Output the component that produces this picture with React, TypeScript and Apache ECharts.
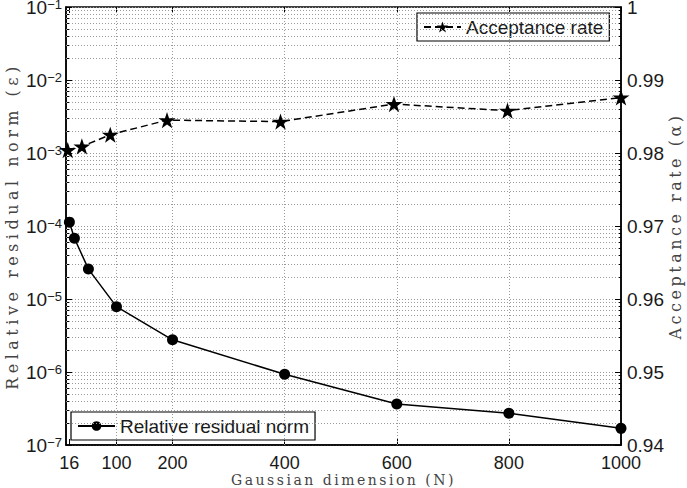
import React, { useEffect, useRef } from 'react';
import * as echarts from 'echarts';

// ---- data ----
const residualN = [16, 25, 50, 100, 200, 400, 600, 800, 1000];
const residualValues = [1.13e-4, 6.8e-5, 2.57e-5, 7.85e-6, 2.76e-6, 9.3e-7, 3.65e-7, 2.72e-7, 1.69e-7];

const acceptanceN = [25, 50, 100, 200, 400, 600, 800, 1000];
const acceptanceValues = [0.9804, 0.9809, 0.9825, 0.9845, 0.9843, 0.9867, 0.9858, 0.9876];

const xTickValues = [16, 100, 200, 400, 600, 800, 1000];
const xGridValues = [100, 200, 400, 600, 800];
const logDecades = [-7, -6, -5, -4, -3, -2];
const logMinorFactors = [2, 3, 4, 5, 6, 7, 8, 9];

const SANS = '"Liberation Sans", Arial, Helvetica, sans-serif';
const SERIF_X = '"DejaVu Serif", serif';
const SERIF_L = '"DejaVu Serif", "Noto Serif", serif';
const SERIF_R = '"DejaVu Serif", "Liberation Serif", serif';
const STAR = 'path://M12,0 L14.9,8.6 L24,8.6 L16.6,14 L19.4,22.8 L12,17.4 L4.6,22.8 L7.4,14 L0,8.6 L9.1,8.6 Z';

const dotted = { type: [1, 2] as number[], color: '#9a9a9a', width: 1 };

function buildOption(): echarts.EChartsOption {
  // minor log positions expressed in log10 units on a hidden linear axis
  const minorLog: number[] = [];
  logDecades.forEach((d) => logMinorFactors.forEach((k) => minorLog.push(Math.log10(k) + d)));
  const gridLines = [...xGridValues.map((v) => ({ xAxis: v })), ...minorLog.map((v) => ({ yAxis: v }))];

  const minorTickAxis = (position: 'left' | 'right') => ({
    type: 'value',
    min: -7,
    max: -1,
    position,
    offset: 0,
    axisLine: { show: false },
    axisLabel: { show: false },
    splitLine: { show: false },
    axisTick: { show: true, inside: true, length: 3, customValues: minorLog, lineStyle: { color: '#000', width: 1 } },
  });

  return {
    animation: false,
    backgroundColor: '#ffffff',
    grid: {
      left: 66,
      right: 66,
      top: 7,
      bottom: 43,
      show: true,
      borderColor: '#000',
      borderWidth: 1.5,
      backgroundColor: 'transparent',
      containLabel: false,
      outerBoundsMode: 'none',
    } as any,
    legend: [
      {
        data: ['Acceptance rate'],
        left: 417,
        top: 13,
        padding: [4, 6, 4, 6],
        itemWidth: 37,
        itemHeight: 14,
        selectedMode: false,
        backgroundColor: '#fff',
        borderColor: '#000',
        borderWidth: 1.2,
        borderRadius: 0,
        textStyle: { fontFamily: SANS, fontSize: 19, color: '#1a1a1a', lineHeight: 20 },
      },
      {
        data: ['Relative residual norm'],
        left: 71,
        top: 412,
        padding: [4, 6, 4, 6],
        itemWidth: 37,
        itemHeight: 12,
        selectedMode: false,
        backgroundColor: '#fff',
        borderColor: '#000',
        borderWidth: 1.2,
        borderRadius: 0,
        textStyle: { fontFamily: SANS, fontSize: 19, color: '#1a1a1a', lineHeight: 20 },
      },
    ],
    xAxis: [
      {
        type: 'value',
        min: 10,
        max: 1000,
        position: 'bottom',
        name: 'Gaussian dimension (N)',
        nameLocation: 'middle',
        nameGap: 28,
        nameMoveOverlap: false,
        nameTextStyle: { fontFamily: SERIF_X, fontSize: 14, lineHeight: 14, color: '#444' },
        axisLine: { show: true, lineStyle: { color: '#000', width: 1.5 } },
        axisTick: { show: true, inside: true, length: 6, customValues: xTickValues, lineStyle: { color: '#000' } },
        axisLabel: {
          customValues: xTickValues,
          margin: 9,
          fontFamily: SANS,
          fontSize: 18,
          lineHeight: 18,
          color: '#1a1a1a',
          formatter: (v: number) => String(Math.round(v)),
        },
        splitLine: { show: false },
      } as any,
      {
        type: 'value',
        min: 22,
        max: 1000,
        position: 'top',
        show: false,
      },
      {
        type: 'value',
        min: 10,
        max: 1000,
        position: 'top',
        offset: 0,
        axisLine: { show: false },
        axisLabel: { show: false },
        splitLine: { show: false },
        axisTick: { show: true, inside: true, length: 6, customValues: xTickValues, lineStyle: { color: '#000' } },
      } as any,
    ],
    yAxis: [
      {
        type: 'log',
        logBase: 10,
        min: 1e-7,
        max: 1e-1,
        position: 'left',
        name: 'Relative residual norm (ε)',
        nameLocation: 'middle',
        nameRotate: 90,
        nameGap: 46,
        nameMoveOverlap: false,
        nameTextStyle: { fontFamily: SERIF_L, fontSize: 16, color: '#444' },
        axisLine: { show: true, lineStyle: { color: '#000', width: 1.5 } },
        axisTick: { show: true, inside: true, length: 6, lineStyle: { color: '#000' } },
        splitLine: { show: true, lineStyle: dotted },
        axisLabel: {
          margin: 4,
          formatter: (v: number) => {
            const e = Math.round(Math.log10(v));
            return `{b|10}{s|${e < 0 ? '−' : ''}${Math.abs(e)}}`;
          },
          rich: {
            b: { fontFamily: SANS, fontSize: 19, color: '#1a1a1a', lineHeight: 19, verticalAlign: 'bottom' },
            s: { fontFamily: SANS, fontSize: 13, color: '#1a1a1a', lineHeight: 13, verticalAlign: 'top', padding: [0, 0, 14, 0] },
          },
        },
      } as any,
      {
        type: 'value',
        min: 0.94,
        max: 1,
        interval: 0.01,
        position: 'right',
        name: 'Acceptance rate (α)',
        nameLocation: 'middle',
        nameRotate: 90,
        nameGap: 46,
        nameMoveOverlap: false,
        nameTextStyle: { fontFamily: SERIF_R, fontSize: 16, color: '#444' },
        axisLine: { show: true, lineStyle: { color: '#000', width: 1.5 } },
        axisTick: { show: true, inside: true, length: 6, lineStyle: { color: '#000' } },
        splitLine: { show: false },
        axisLabel: {
          margin: 6,
          fontFamily: SANS,
          fontSize: 19,
          lineHeight: 16,
          padding: [6, 0, 0, 0],
          color: '#1a1a1a',
          formatter: (v: number) => (Math.abs(v - 1) < 1e-9 ? '1' : v.toFixed(2)),
        },
      } as any,
      minorTickAxis('left') as any,
      minorTickAxis('right') as any,
    ],
    series: [
      {
        name: 'grid-lines',
        type: 'line',
        xAxisIndex: 0,
        yAxisIndex: 2,
        data: [],
        silent: true,
        z: 1,
        markLine: {
          silent: true,
          symbol: ['none', 'none'],
          label: { show: false },
          lineStyle: dotted,
          emphasis: { disabled: true },
          data: gridLines,
        },
      },
      {
        name: 'Relative residual norm',
        type: 'line',
        xAxisIndex: 0,
        yAxisIndex: 0,
        data: residualN.map((n, i) => [n, residualValues[i]]),
        symbol: 'circle',
        symbolSize: 11,
        color: '#000',
        itemStyle: { color: '#000' },
        lineStyle: { color: '#000', width: 1.5, type: 'solid' },
        z: 5,
      },
      {
        name: 'Acceptance rate',
        type: 'line',
        xAxisIndex: 1,
        yAxisIndex: 1,
        data: acceptanceN.map((n, i) => [n, acceptanceValues[i]]),
        symbol: STAR,
        symbolSize: 17,
        symbolKeepAspect: true,
        color: '#000',
        itemStyle: { color: '#000' },
        lineStyle: { color: '#000', width: 1.5, type: [7, 4] },
        z: 5,
      },
    ],
  };
}

export default function App() {
  const ref = useRef<HTMLDivElement>(null);
  useEffect(() => {
    if (!ref.current) return;
    const chart = echarts.init(ref.current, null, { renderer: 'svg' });
    chart.setOption(buildOption());
    return () => chart.dispose();
  }, []);
  return (
    <div style={{ position: 'absolute', left: 0, top: 0, width: 687, height: 488, background: '#fff' }}>
      <style>{`
        .chart-host text[style*="DejaVu Serif"], .chart-host text[font-family*="DejaVu Serif"] { letter-spacing: 2.5px; }
        .chart-host text[style*="Noto Serif"], .chart-host text[font-family*="Noto Serif"] { letter-spacing: 4.5px; }
        .chart-host text[style*="Liberation Serif"], .chart-host text[font-family*="Liberation Serif"] { letter-spacing: 3.5px; }
      `}</style>
      <div className="chart-host" ref={ref} style={{ width: 687, height: 488 }} />
    </div>
  );
}
